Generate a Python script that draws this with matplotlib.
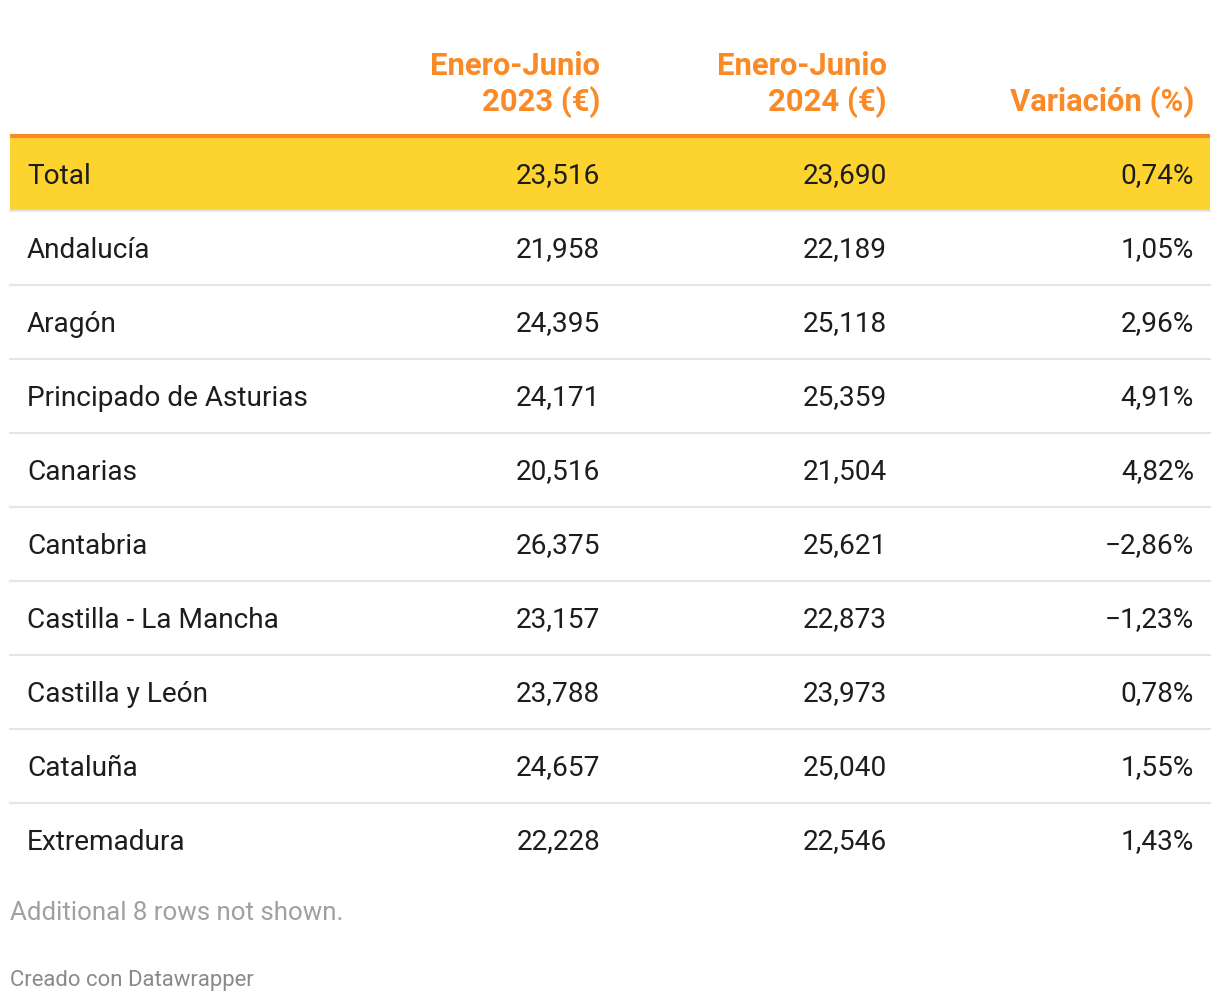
import matplotlib
matplotlib.use("Agg")
import matplotlib.pyplot as plt

plt.rcParams['font.family'] = ['Roboto', 'DejaVu Sans']

# Data
headers = ["Enero-Junio\n2023 (€)", "Enero-Junio\n2024 (€)", "Variación (%)"]
regions = ["Total", "Andalucía", "Aragón", "Principado de Asturias", "Canarias",
           "Cantabria", "Castilla - La Mancha", "Castilla y León", "Cataluña", "Extremadura"]
ene_jun_2023 = ["23,516", "21,958", "24,395", "24,171", "20,516",
                "26,375", "23,157", "23,788", "24,657", "22,228"]
ene_jun_2024 = ["23,690", "22,189", "25,118", "25,359", "21,504",
                "25,621", "22,873", "23,973", "25,040", "22,546"]
variacion = ["0,74%", "1,05%", "2,96%", "4,91%", "4,82%",
             "\u22122,86%", "\u22121,23%", "0,78%", "1,55%", "1,43%"]
footnote = "Additional 8 rows not shown."
credit = "Creado con Datawrapper"

ORANGE = "#f98a26"
YELLOW = "#fdd42f"
GRID = "#e6e6e6"
TXT = "#1d1d1d"

W, H = 1220, 1002
fig = plt.figure(figsize=(W / 100, H / 100), dpi=100)
ax = fig.add_axes([0, 0, 1, 1])
ax.set_xlim(0, W)
ax.set_ylim(H, 0)
ax.axis("off")

left, right = 10, 1210
col_x = [600, 887, 1194]
row_top = 137
row_h = 74
fs = 20.2

# header
for x, h in zip(col_x, headers):
    ax.text(x, 111, h, ha="right", va="baseline", fontsize=22.3, fontweight="bold",
            color=ORANGE, linespacing=1.19)
ax.plot([left, right], [136, 136], color=ORANGE, lw=3, solid_capstyle="butt")

# rows
for i, name in enumerate(regions):
    top = row_top + i * row_h
    cy = top + row_h / 2 - 1
    if i == 0:
        ax.fill_between([left, right], top, top + row_h - 1, color=YELLOW, lw=0)
    if i < len(regions) - 1:
        ax.plot([left, right], [top + row_h, top + row_h], color=GRID, lw=1.5)
    ax.text(27, cy, name, ha="left", va="center_baseline", fontsize=fs, color=TXT)
    ax.text(col_x[0], cy, ene_jun_2023[i], ha="right", va="center_baseline", fontsize=fs, color=TXT)
    ax.text(col_x[1], cy, ene_jun_2024[i], ha="right", va="center_baseline", fontsize=fs, color=TXT)
    ax.text(col_x[2], cy, variacion[i], ha="right", va="center_baseline", fontsize=fs, color=TXT)

ax.text(10, 911, footnote, ha="left", va="center_baseline", fontsize=18.6, color="#a0a0a0")
ax.text(10, 978, credit, ha="left", va="center_baseline", fontsize=15.9, color="#8a8a8a")

fig.savefig("out.png", dpi=100)
